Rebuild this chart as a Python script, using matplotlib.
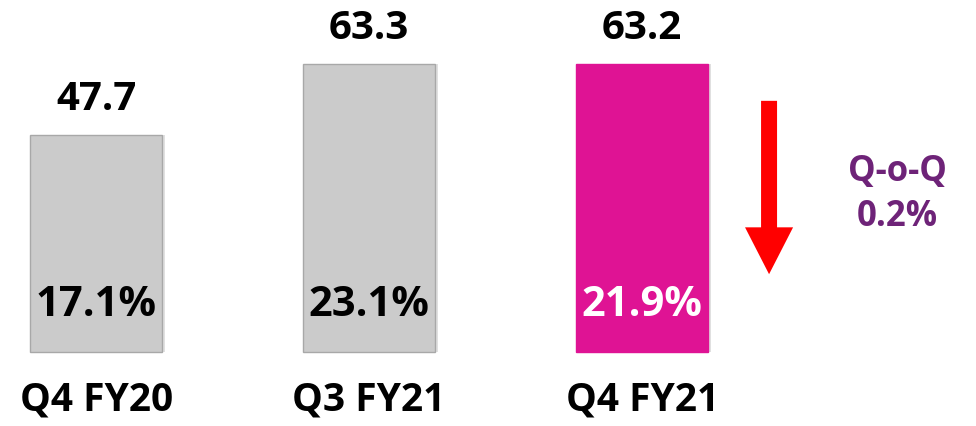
import matplotlib.pyplot as plt
from matplotlib.patches import FancyArrow

# data
categories = ['Q4 FY20', 'Q3 FY21', 'Q4 FY21']
values = [47.7, 63.3, 63.2]
shares = ['17.1%', '23.1%', '21.9%']
bar_colors = ['#CBCBCB', '#CBCBCB', '#DF1394']
share_colors = ['black', 'black', 'white']
qoq_label = 'Q-o-Q'
qoq_change = '0.2%'

plt.rcParams['font.family'] = ['Open Sans', 'DejaVu Sans']

fig = plt.figure(figsize=(9.76, 4.26), dpi=100)
ax = fig.add_axes([0, 0, 1, 1])
ax.set_xlim(-0.352, 3.223)
ax.set_ylim(-16.26, 77.36)
ax.axis('off')

x = range(len(categories))
# soft shadow behind bars
ax.bar([i + 0.012 for i in x], values, width=0.483, color='#000000', alpha=0.12, zorder=1)
ax.bar(x, values, width=0.483, color=bar_colors,
       edgecolor=['#A8A8A8', '#A8A8A8', '#DF1394'], linewidth=1, zorder=2)

for i, (v, s) in enumerate(zip(values, shares)):
    ax.text(i, v + 3.6, f'{v:.1f}', ha='center', va='bottom',
            fontsize=29, fontweight='bold', color='black')
    ax.text(i, 10.3, s, ha='center', va='center',
            fontsize=30, fontweight='bold', color=share_colors[i], zorder=3)
    ax.text(i, -10.5, categories[i], ha='center', va='center',
            fontsize=28, fontweight='bold', color='black')

# red down arrow
ax.add_patch(FancyArrow(2.465, 55.2, 0, -38.1, width=0.0586, head_width=0.176,
                        head_length=10.3, length_includes_head=True,
                        color='#FF0000', linewidth=0))

ax.text(2.935, 39.6, qoq_label, ha='center', va='center',
        fontsize=25, fontweight='bold', color='#6E2378')
ax.text(2.935, 29.7, qoq_change, ha='center', va='center',
        fontsize=25, fontweight='bold', color='#6E2378')

fig.savefig('out.png', dpi=100)
